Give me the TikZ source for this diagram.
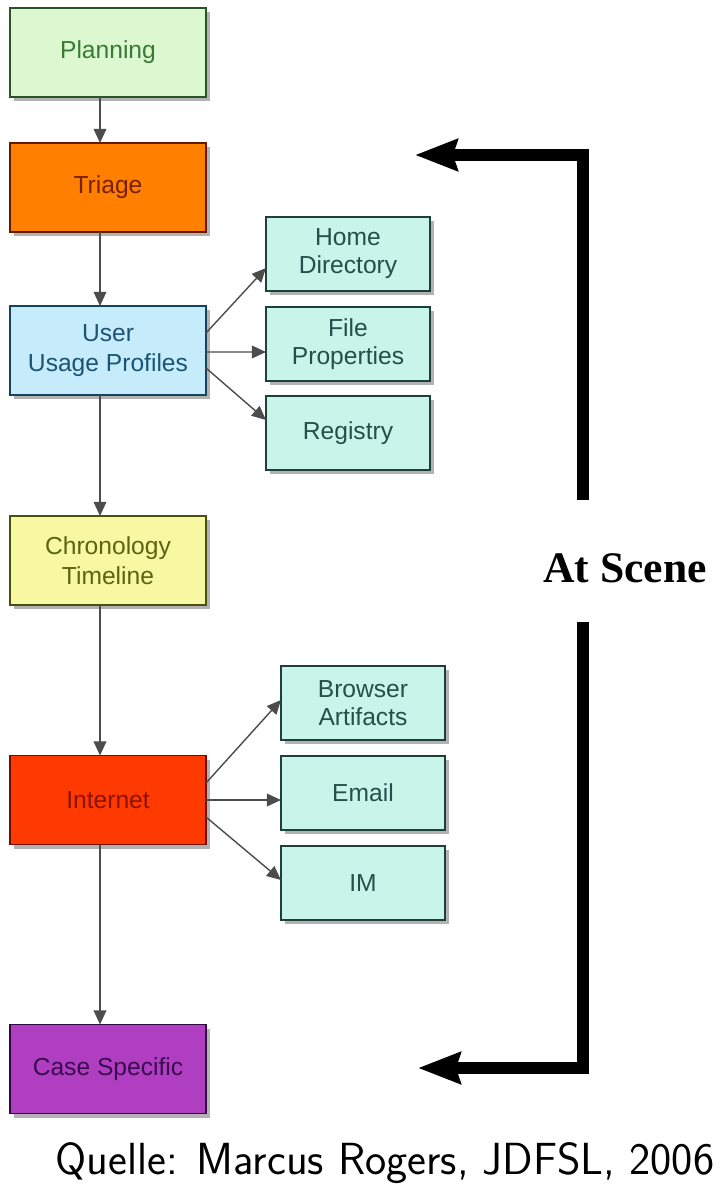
\documentclass[tikz,border=0pt]{standalone}
\usepackage{fontspec}
\setmainfont{Liberation Sans}
\newfontfamily\scenefont{Liberation Serif}
\usetikzlibrary{calc,arrows.meta,positioning,shadows}
\definecolor{planfill}{HTML}{DCF8D0}
\definecolor{plantext}{HTML}{3A7A36}
\definecolor{triagefill}{HTML}{FF8000}
\definecolor{triagetext}{HTML}{7A2000}
\definecolor{userfill}{HTML}{C6ECFC}
\definecolor{usertext}{HTML}{1C5474}
\definecolor{chronofill}{HTML}{F8F8A2}
\definecolor{chronotext}{HTML}{5C6412}
\definecolor{netfill}{HTML}{FF3A00}
\definecolor{nettext}{HTML}{8A1200}
\definecolor{casefill}{HTML}{B03EC0}
\definecolor{casetext}{HTML}{3A0A50}
\definecolor{subfill}{HTML}{C8F4EA}
\definecolor{subtext}{HTML}{24504A}
\tikzset{
  pbox/.style={rectangle, draw, line width=1.2pt, minimum width=4.9cm, minimum height=2.225cm,
    inner sep=0pt, outer sep=0pt, align=center, font=\fontsize{17.5}{21}\selectfont,
    drop shadow={shadow xshift=3pt, shadow yshift=-3pt, opacity=0.5, fill=black!60}},
  sbox/.style={pbox, minimum width=4.1cm, minimum height=1.85cm, fill=subfill,
    draw=subtext!80!black, text=subtext, font=\fontsize{17.5}{20}\selectfont},
  flow/.style={draw=black!70, line width=1pt, -{Triangle[length=10pt,width=9pt]}},
  scenearr/.style={line width=8.5pt, -{Stealth[length=30pt,width=22pt,inset=3pt]}},
}

\begin{document}
\begin{tikzpicture}[x=0.025cm, y=0.025cm]
  \useasboundingbox (0,0) rectangle (728,-1196);

  %% ============================================
  %% MAIN PHASES (left column)
  %% ============================================
  \node[pbox, fill=planfill, draw=plantext!70!black, text=plantext] (plan) at (108,-52.5) {Planning};
  \node[pbox, fill=triagefill, draw=triagetext!80!black, text=triagetext] (triage) at (108,-187.5) {Triage};
  \node[pbox, fill=userfill, draw=usertext!80!black, text=usertext] (user) at (108,-350.5) {User\\Usage Profiles};
  \node[pbox, fill=chronofill, draw=chronotext!80!black, text=chronotext] (chrono) at (108,-560.5) {Chronology\\Timeline};
  \node[pbox, fill=netfill, draw=nettext!80!black, text=nettext] (net) at (108,-800) {Internet};
  \node[pbox, fill=casefill, draw=casetext!80!black, text=casetext] (case) at (108,-1069) {Case Specific};

  % Phase to phase
  \draw[flow] ($(plan.south)+(-8,0)$) -- ($(triage.north)+(-8,0)$);
  \draw[flow] ($(triage.south)+(-8,0)$) -- ($(user.north)+(-8,0)$);
  \draw[flow] ($(user.south)+(-8,0)$) -- ($(chrono.north)+(-8,0)$);
  \draw[flow] ($(chrono.south)+(-8,0)$) -- ($(net.north)+(-8,0)$);
  \draw[flow] ($(net.south)+(-8,0)$) -- ($(case.north)+(-8,0)$);

  %% ============================================
  %% SUB-TASKS (middle column)
  %% ============================================
  \node[sbox] (home) at (348,-254) {Home\\Directory};
  \node[sbox] (fprop) at (348,-344) {File\\Properties};
  \node[sbox] (reg) at (348,-433) {Registry};

  \node[sbox] (browser) at (363,-703) {Browser\\Artifacts};
  \node[sbox] (email) at (363,-793) {Email};
  \node[sbox] (im) at (363,-883) {IM};

  % User profiles to its items
  \draw[flow] ($(user.east)+(0,17.5)$) -- ($(home.west)+(0,-14)$);
  \draw[flow] ($(user.east)+(0,-1.5)$) -- ($(fprop.west)+(0,-8)$);
  \draw[flow] ($(user.east)+(0,-17.5)$) -- ($(reg.west)+(0,13)$);

  % Internet to its items
  \draw[flow] ($(net.east)+(0,17)$) -- ($(browser.west)+(0,3)$);
  \draw[flow] (net.east) -- ($(email.west)+(0,-7)$);
  \draw[flow] ($(net.east)+(0,-17)$) -- ($(im.west)+(0,3)$);

  %% ============================================
  %% AT SCENE bracket (right)
  %% ============================================
  \node[font=\scenefont\bfseries\fontsize{31}{36}\selectfont] (scene) at (625,-568) {At Scene};
  \coordinate (scenetop) at (583,-500);
  \coordinate (scenebot) at (583,-622);
  \coordinate (toptip) at (415,-155);
  \coordinate (bottip) at (418,-1068);
  \draw[scenearr] (scenetop) |- (toptip);
  \draw[scenearr] (scenebot) |- (bottip);

  % Source
  \node[font=\sffamily\fontsize{32}{38}\selectfont] (src) at (385,-1163) {Quelle: Marcus Rogers, JDFSL, 2006};
\end{tikzpicture}
\end{document}
